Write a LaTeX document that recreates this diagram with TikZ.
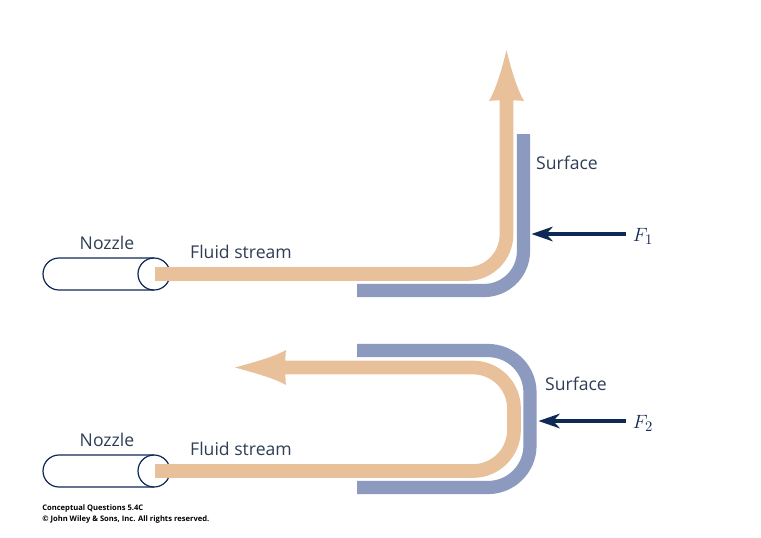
\documentclass[tikz,border=0pt]{standalone}
\usepackage{fontspec}
\setmainfont{Open Sans}
\usepackage{tikz}
\usetikzlibrary{arrows.meta}
\definecolor{streamtan}{RGB}{232,192,154}
\definecolor{surfaceblue}{RGB}{141,154,191}
\definecolor{darknavy}{RGB}{15,40,85}
\definecolor{labelgray}{RGB}{45,62,85}
\tikzstyle{stream} = [draw=streamtan, line width=10.3pt]
\tikzstyle{streamhead} = [fill=streamtan, draw=none]
\tikzstyle{surface} = [draw=surfaceblue, line width=9.9pt]
\tikzstyle{nozzle} = [draw=darknavy, line width=0.9pt]
\tikzstyle{force} = [draw=darknavy, line width=2.4pt, -{Stealth[length=16pt,width=11pt,inset=5pt]}]
\tikzstyle{label} = [text=labelgray, font=\fontsize{13.2}{15}\selectfont, inner sep=0]
\tikzstyle{forcelabel} = [text=darknavy, font=\fontsize{15.5}{18}\selectfont, inner sep=0]
\tikzstyle{credit} = [text=black, font=\fontsize{5.7}{8.2}\selectfont\bfseries, inner sep=0, align=left, anchor=west]

\begin{document}
\begin{tikzpicture}[x=0.75pt,y=-0.75pt]

    \useasboundingbox (0,0) rectangle (761,537);

    % Case 1: surface turning the stream upward
    \draw[nozzle] (59,258) -- (154,258) arc[start angle=-90,end angle=90,radius=16] -- (59,290) arc[start angle=90,end angle=270,radius=16];
    \draw[nozzle] (154,258) arc[start angle=270,end angle=90,radius=16];
    \draw[surface] (357,290.5) -- (484,290.5) arc[start angle=90,end angle=0,radius=39.5] -- (523.5,134);
    \draw[stream] (155,274) -- (467,274) arc[start angle=90,end angle=0,radius=39.5] -- (506.5,98);
    \fill[streamhead] (506.5,50) .. controls (511,69) and (517,89) .. (524,101) .. controls (518,100) and (495,100) .. (489,101) .. controls (496,89) and (502,69) .. (506.5,50);
    \coordinate (forcetail1) at (626,234);
    \coordinate (forcetip1) at (531.5,234);
    \draw[force] (forcetail1) -- (forcetip1);

    \node (nozzlelabel1) at (107,243) [label] {Nozzle};
    \node (streamlabel1) at (241,252) [label] {Fluid stream};
    \node (surfacelabel1) at (567,163) [label] {Surface};
    \node (forcelabel1) at (643,236) [forcelabel] {$F_1$};

    % Case 2: surface turning the stream back
    \draw[nozzle] (59,455) -- (154,455) arc[start angle=-90,end angle=90,radius=16] -- (59,487) arc[start angle=90,end angle=270,radius=16];
    \draw[nozzle] (154,455) arc[start angle=270,end angle=90,radius=16];
    \draw[surface] (357,350.5) -- (488,350.5) arc[start angle=-90,end angle=0,radius=42] -- (530,445.5) arc[start angle=0,end angle=90,radius=42] -- (357,487.5);
    \draw[stream] (155,471) -- (473,471) arc[start angle=90,end angle=0,radius=41] -- (514,408.5) arc[start angle=0,end angle=-90,radius=41] -- (282,367.5);
    \fill[streamhead] (235,367.5) .. controls (253,362.5) and (274,357) .. (286,350) .. controls (285,356) and (285,379) .. (286,385) .. controls (274,378) and (253,372.5) .. (235,367.5);
    \coordinate (forcetail2) at (626,421);
    \coordinate (forcetip2) at (538.5,421);
    \draw[force] (forcetail2) -- (forcetip2);

    \node (nozzlelabel2) at (107,440) [label] {Nozzle};
    \node (streamlabel2) at (241,449) [label] {Fluid stream};
    \node (surfacelabel2) at (576,384) [label] {Surface};
    \node (forcelabel2) at (643,423) [forcelabel] {$F_2$};

    % Credit line
    \node (creditline) at (42,514) [credit] {Conceptual Questions 5.4C\\© John Wiley \& Sons, Inc. All rights reserved.};

\end{tikzpicture}
\end{document}
